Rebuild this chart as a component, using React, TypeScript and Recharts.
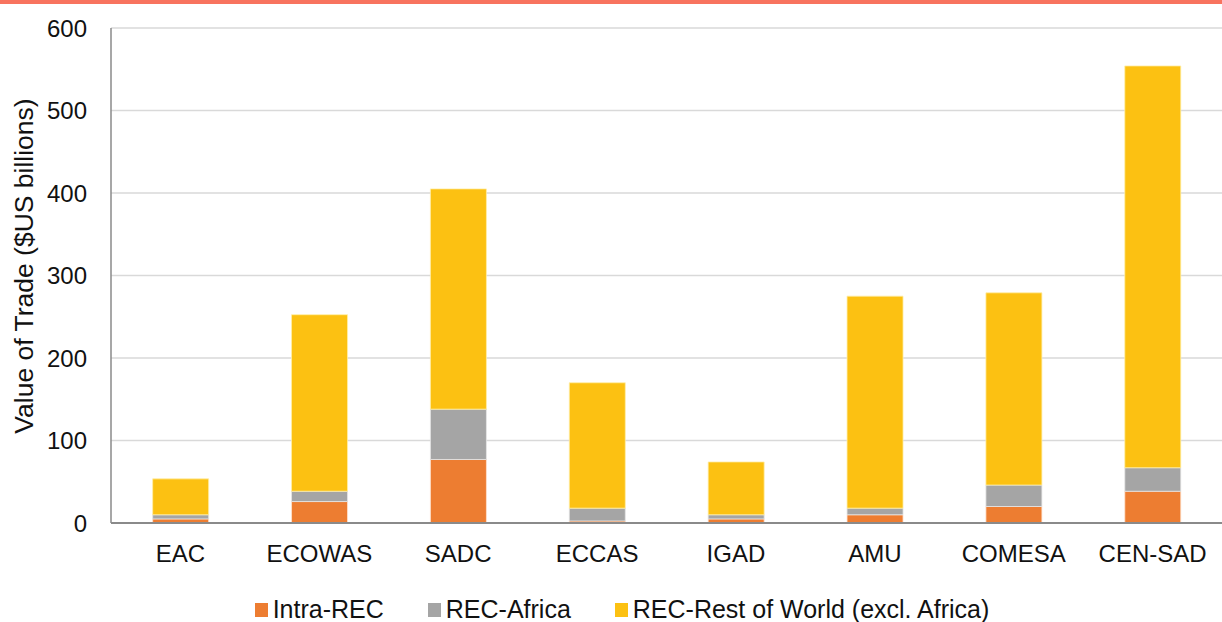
import React from "react";
import { BarChart, Bar, XAxis, YAxis, CartesianGrid, Legend } from "recharts";

const categories = ["EAC", "ECOWAS", "SADC", "ECCAS", "IGAD", "AMU", "COMESA", "CEN-SAD"];
const intraRec = [5, 26, 77, 2.5, 5, 10, 20, 38.5];
const recAfrica = [5, 12.5, 61, 15.5, 5, 8, 26, 28.5];
const recRestOfWorld = [43.5, 214, 267, 152, 64, 257, 233, 487];
const yTicks = [0, 100, 200, 300, 400, 500, 600];

const seriesNames = ["Intra-REC", "REC-Africa", "REC-Rest of World (excl. Africa)"];
const seriesColors = ["#ED7D31", "#A5A5A5", "#FCC112"];

const data = categories.map((c, i) => ({
  name: c,
  intra: intraRec[i],
  africa: recAfrica[i],
  row: recRestOfWorld[i],
}));

const FONT = "'Liberation Sans', Arial, Helvetica, sans-serif";

const LegendContent = () => (
  <div
    style={{
      display: "flex",
      justifyContent: "center",
      alignItems: "center",
      fontFamily: FONT,
      fontSize: 25,
      color: "#111",
      height: 30,
      boxSizing: "border-box",
      paddingTop: 5,
      paddingLeft: 22,
    }}
  >
    {seriesNames.map((n, i) => (
      <div key={n} style={{ display: "flex", alignItems: "center", marginRight: i < 2 ? 44 : 0 }}>
        <span style={{ display: "inline-block", width: 13, height: 14, background: seriesColors[i], marginRight: 5 }} />
        <span>{n}</span>
      </div>
    ))}
  </div>
);

const YLabel = () => (
  <text
    x={24}
    y={266}
    transform="rotate(-90, 24, 266)"
    textAnchor="middle"
    dominantBaseline="central"
    fontFamily={FONT}
    fontSize={26.5}
    fill="#111"
  >
    Value of Trade ($US billions)
  </text>
);

export default function App() {
  return (
    <div style={{ position: "absolute", left: 0, top: 0, width: 1222, height: 622, background: "#fff" }}>
      <div style={{ position: "absolute", left: 0, top: 0, width: 1222, height: 4, background: "#F8735F", zIndex: 2 }} />
      <BarChart
        width={1222}
        height={622}
        data={data}
        margin={{ top: 28, right: 0, left: 0, bottom: 0 }}
        barCategoryGap="30%"
      >
        <CartesianGrid vertical={false} stroke="#D9D9D9" strokeWidth={1.5} />
        <XAxis
          dataKey="name"
          height={69}
          tickSize={0}
          tickMargin={22}
          axisLine={{ stroke: "#8A8A8A", strokeWidth: 2 }}
          tick={{ fontFamily: FONT, fontSize: 24, fill: "#111" }}
          interval={0}
        />
        <YAxis
          width={111}
          domain={[0, 600]}
          ticks={yTicks}
          tickSize={0}
          tickMargin={24}
          axisLine={{ stroke: "#8A8A8A", strokeWidth: 1.5 }}
          tick={{ fontFamily: FONT, fontSize: 24, fill: "#111" }}
          label={<YLabel />}
        />
        <Legend verticalAlign="bottom" height={30} content={<LegendContent />} />
        <Bar dataKey="intra" stackId="a" fill={seriesColors[0]} stroke="#FFE3D0" strokeWidth={0.8} isAnimationActive={false} />
        <Bar dataKey="africa" stackId="a" fill={seriesColors[1]} stroke="#E6E6E6" strokeWidth={0.8} isAnimationActive={false} />
        <Bar dataKey="row" stackId="a" fill={seriesColors[2]} stroke="#FFEFA8" strokeWidth={0.8} isAnimationActive={false} />
      </BarChart>
    </div>
  );
}
